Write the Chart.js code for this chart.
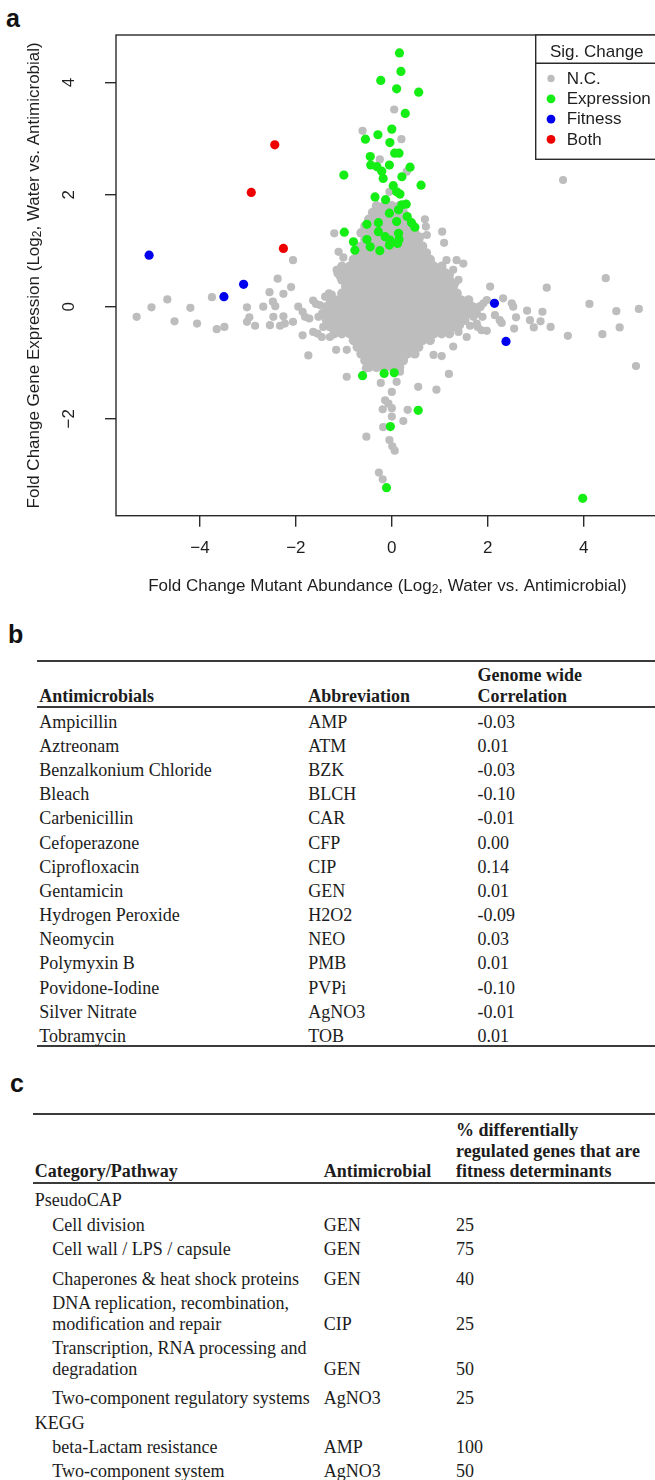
<!DOCTYPE html>
<html>
<head>
<meta charset="utf-8">
<script src="https://cdn.jsdelivr.net/npm/chart.js@4.4.1/dist/chart.umd.min.js"></script>
<style>
  html, body { margin: 0; padding: 0; background: #fff; overflow: hidden; }
  body { width: 655px; height: 1480px; position: relative; color: #1c1c1c;
         font-family: "Liberation Serif", "Times New Roman", serif; }
  .panel { position: absolute; font-family: "Liberation Sans", Arial, sans-serif;
           font-weight: bold; font-size: 25px; line-height: 25px; color: #111; }
  #plotWrap { position: absolute; left: 0; top: 0; width: 655px; height: 600px; overflow: hidden; }
  .tbl { position: absolute; width: 700px; font-size: 18px;
         border-top: 2px solid #3a3a3a; border-bottom: 2px solid #3a3a3a; }
  .hdr { display: flex; align-items: flex-end; border-bottom: 2px solid #3a3a3a; font-weight: bold; }
  .row { display: flex; align-items: flex-end; }
  .cell { white-space: pre; }
  #tableB { left: 37px; top: 660px; }
  #tableB .hdr { height: 44px; line-height: 21.6px; }
  #tableB .hdr .cell { position: relative; top: 2px; }
  #tableB .body { height: 336.7px; box-sizing: border-box; padding-top: 1.6px; }
  #tableB .row { height: 24.2px; line-height: 24.2px; }
  #tableB .c1 { width: 269px; padding-left: 2.3px; }
  #tableB .c2 { width: 169.2px; }
  #tableC { left: 32.6px; top: 1113.3px; }
  #tableC .hdr { height: 66.4px; line-height: 20.5px; }
  #tableC .body { padding-top: 4.85px; }
  #tableC .row { line-height: 20.6px; padding: 1.85px 0; }
  #tableC .row.spaced { padding-top: 7.4px; }
  #tableC .c1 { width: 289px; padding-left: 2.1px; }
  #tableC .c1.item { width: 271.5px; padding-left: 19.6px; }
  #tableC .c2 { width: 132.4px; }
</style>
</head>
<body>
<div class="panel" style="left:6px; top:6px;">a</div>
<div id="plotWrap"><canvas id="volcano" width="672" height="600"></canvas></div>
<div class="panel" style="left:8px; top:622px;">b</div>
<div id="tableB" class="tbl"></div>
<div class="panel" style="left:10px; top:1071px;">c</div>
<div id="tableC" class="tbl"></div>

<script>
// ---- scatter data (log2 fold changes) ----
const xTickValues = [-4, -2, 0, 2, 4];
const yTickValues = [-2, 0, 2, 4];
const xTitle = ["Fold Change Mutant Abundance (Log", "2", ", Water vs. Antimicrobial)"];
const yTitle = ["Fold Change Gene Expression (Log", "2", ", Water vs. Antimicrobial)"];
const legendTitle = "Sig. Change";

// dense core of not-changed genes, row by row (y, then the x values in that row)
const ncBlobY = [1.80, 1.68, 1.56, 1.44, 1.32, 1.20, 1.08, 0.96, 0.84, 0.72, 0.60, 0.48, 0.36,
                 0.24, 0.12, 0.00, -0.12, -0.24, -0.36, -0.48, -0.60, -0.72, -0.84, -0.96, -1.08];
const ncBlobX = [
  [-0.32, -0.16, 0, 0.16],
  [-0.40, -0.24, -0.08, 0.08, 0.24],
  [-0.48, -0.32, -0.16, 0, 0.16, 0.32],
  [-0.56, -0.40, -0.24, -0.08, 0.08, 0.24, 0.40],
  [-0.64, -0.48, -0.32, -0.16, 0, 0.16, 0.32, 0.48],
  [-0.56, -0.40, -0.24, -0.08, 0.08, 0.24, 0.40, 0.56],
  [-0.64, -0.48, -0.32, -0.16, 0, 0.16, 0.32, 0.48, 0.64],
  [-0.72, -0.56, -0.40, -0.24, -0.08, 0.08, 0.24, 0.40, 0.56, 0.72],
  [-0.80, -0.64, -0.48, -0.32, -0.16, 0, 0.16, 0.32, 0.48, 0.64, 0.80],
  [-1.04, -0.88, -0.72, -0.56, -0.40, -0.24, -0.08, 0.08, 0.24, 0.40, 0.56, 0.72, 0.88, 1.04],
  [-1.12, -0.96, -0.80, -0.64, -0.48, -0.32, -0.16, 0, 0.16, 0.32, 0.48, 0.64, 0.80, 0.96, 1.12],
  [-1.04, -0.88, -0.72, -0.56, -0.40, -0.24, -0.08, 0.08, 0.24, 0.40, 0.56, 0.72, 0.88, 1.04, 1.20],
  [-0.96, -0.80, -0.64, -0.48, -0.32, -0.16, 0, 0.16, 0.32, 0.48, 0.64, 0.80, 0.96, 1.12, 1.28],
  [-1.04, -0.88, -0.72, -0.56, -0.40, -0.24, -0.08, 0.08, 0.24, 0.40, 0.56, 0.72, 0.88, 1.04, 1.20, 1.36],
  [-1.28, -1.12, -0.96, -0.80, -0.64, -0.48, -0.32, -0.16, 0, 0.16, 0.32, 0.48, 0.64, 0.80, 0.96, 1.12, 1.28, 1.44, 1.60],
  [-1.36, -1.20, -1.04, -0.88, -0.72, -0.56, -0.40, -0.24, -0.08, 0.08, 0.24, 0.40, 0.56, 0.72, 0.88, 1.04, 1.20, 1.36, 1.52, 1.68, 1.84],
  [-1.44, -1.28, -1.12, -0.96, -0.80, -0.64, -0.48, -0.32, -0.16, 0, 0.16, 0.32, 0.48, 0.64, 0.80, 0.96, 1.12, 1.28, 1.44, 1.60, 1.76],
  [-1.36, -1.20, -1.04, -0.88, -0.72, -0.56, -0.40, -0.24, -0.08, 0.08, 0.24, 0.40, 0.56, 0.72, 0.88, 1.04, 1.20, 1.36, 1.52],
  [-1.28, -1.12, -0.96, -0.80, -0.64, -0.48, -0.32, -0.16, 0, 0.16, 0.32, 0.48, 0.64, 0.80, 0.96, 1.12, 1.28],
  [-1.20, -1.04, -0.88, -0.72, -0.56, -0.40, -0.24, -0.08, 0.08, 0.24, 0.40, 0.56, 0.72, 0.88, 1.04, 1.20],
  [-0.80, -0.64, -0.48, -0.32, -0.16, 0, 0.16, 0.32, 0.48, 0.64, 0.80],
  [-0.72, -0.56, -0.40, -0.24, -0.08, 0.08, 0.24, 0.40, 0.56],
  [-0.64, -0.48, -0.32, -0.16, 0, 0.16, 0.32, 0.48],
  [-0.56, -0.40, -0.24, -0.08, 0.08, 0.24],
  [-0.48, -0.32, -0.16, 0, 0.16]
];

// scattered not-changed genes outside the core
const ncPoints = [
  [-5.32, -0.18], [-5.01, -0.01], [-4.68, 0.13], [-4.53, -0.26], [-4.20, -0.02], [-4.06, -0.30],
  [-3.75, 0.17], [-3.65, -0.40], [-3.49, -0.36], [-3.02, -0.01], [-3.02, -0.27], [-2.97, -0.19],
  [-2.85, -0.34], [-2.68, 0.00], [-2.55, 0.26], [-2.54, -0.33], [-2.48, 0.09], [-2.47, -0.18],
  [-2.43, 0.01], [-2.38, 0.50], [-2.33, -0.34], [-2.26, 0.23], [-2.26, -0.17], [-2.23, -0.30],
  [-2.10, 0.35], [-2.06, 0.83], [-2.06, -0.27], [-1.95, 0.00], [-1.86, -0.09], [-1.86, -0.51],
  [-1.81, -0.18], [-1.74, -0.87], [-1.72, -0.21], [-1.64, 0.11], [-1.64, -0.45], [-1.58, 0.05],
  [-1.55, -0.48], [-1.53, -0.18], [-1.50, 0.03], [-1.46, -0.54], [-1.43, -0.36], [-1.39, 0.18],
  [-1.31, 0.24], [-1.29, -0.54], [-1.25, 0.21], [-1.20, 1.31], [-1.16, -0.77], [-1.15, 0.66],
  [-1.11, 0.98], [-1.08, 0.54], [-1.01, 0.88], [-0.98, 0.69], [-0.94, -0.77], [-0.94, -1.25],
  [-0.61, 3.14], [0.05, 3.52], [0.20, 2.99], [-0.25, 2.63], [0.31, 2.41], [-0.05, 2.05],
  [3.57, 2.26], [0.69, 1.56], [0.71, 1.43], [0.73, 1.28], [0.59, 1.25], [0.59, 1.07],
  [1.05, 1.34], [1.09, 1.14], [1.14, 0.83], [1.35, 0.83], [1.49, 0.77], [1.28, 0.66],
  [1.21, 0.57], [1.39, 0.48], [1.32, 0.42], [1.28, 0.24], [1.42, -0.33], [1.39, -0.45],
  [1.28, -0.71], [1.56, -0.54], [1.63, -0.34], [1.70, -0.18], [1.77, -0.30], [1.79, -0.36],
  [1.87, -0.42], [1.98, -0.43], [1.89, -0.18], [1.91, 0.06], [1.98, 0.12], [2.05, 0.36],
  [2.15, -0.15], [2.25, -0.24], [2.29, -0.29], [2.32, 0.15], [2.50, 0.06], [2.53, 0.00],
  [2.55, -0.39], [2.59, -0.19], [2.82, -0.07], [2.88, -0.24], [2.96, -0.37], [3.10, -0.26],
  [3.14, -0.09], [3.23, 0.34], [3.31, -0.36], [3.67, -0.52], [4.12, 0.05], [4.39, -0.49],
  [4.46, 0.51], [4.68, -0.08], [4.75, -0.37], [5.09, -1.06], [5.15, -0.04], [1.04, -0.88],
  [0.87, -0.86], [1.19, -1.20], [0.93, -1.48], [0.55, -1.43], [-0.54, -1.10], [-0.23, -1.36],
  [0.00, -1.52], [0.10, -1.34], [0.17, -1.16], [-0.14, -1.67], [-0.07, -1.73], [0.00, -1.81],
  [-0.19, -1.83], [0.33, -1.84], [0.24, -2.04], [0.00, -1.96], [-0.18, -2.15], [-0.53, -2.32],
  [-0.05, -2.38], [0.01, -2.49], [0.06, -2.57], [-0.27, -2.96], [-0.19, -3.08]
];

const exprPoints = [
  [0.16, 4.53], [0.19, 4.20], [-0.23, 4.04], [0.10, 3.89], [0.56, 3.83], [0.28, 3.45],
  [0.00, 3.17], [-0.29, 3.07], [-0.55, 2.99], [-0.04, 2.93], [0.06, 2.74], [0.15, 2.74],
  [-0.45, 2.68], [-0.44, 2.53], [-0.31, 2.50], [-0.05, 2.53], [-0.21, 2.42], [0.38, 2.49],
  [0.21, 2.32], [-0.18, 2.29], [-1.00, 2.35], [0.61, 2.17], [0.03, 2.16], [0.10, 2.05],
  [-0.35, 1.96], [0.17, 2.01], [-0.13, 1.91], [0.21, 1.82], [0.30, 1.83], [-0.05, 1.67],
  [0.14, 1.73], [0.32, 1.61], [-0.52, 1.47], [-0.28, 1.50], [0.10, 1.52], [0.48, 1.42],
  [0.41, 1.50], [-0.99, 1.33], [-0.28, 1.34], [-0.14, 1.25], [0.14, 1.31], [-0.52, 1.20],
  [-0.80, 1.16], [-0.77, 1.01], [-0.45, 1.07], [-0.25, 1.00], [-0.05, 1.10], [0.12, 1.13],
  [-0.04, 1.19], [0.15, 1.20], [-0.61, -1.23], [-0.16, -1.19], [0.05, -1.18], [0.55, -1.85],
  [-0.03, -2.14], [-0.11, -3.23], [3.98, -3.42]
];
const fitnessPoints = [[-5.06, 0.92], [-3.09, 0.40], [-3.50, 0.18], [2.14, 0.06], [2.38, -0.62]];
const bothPoints = [[-2.44, 2.89], [-2.93, 2.04], [-2.26, 1.04]];

// ---- table b ----
const drugNames = ["Ampicillin", "Aztreonam", "Benzalkonium Chloride", "Bleach", "Carbenicillin",
  "Cefoperazone", "Ciprofloxacin", "Gentamicin", "Hydrogen Peroxide", "Neomycin", "Polymyxin B",
  "Povidone-Iodine", "Silver Nitrate", "Tobramycin"];
const drugAbbr = ["AMP", "ATM", "BZK", "BLCH", "CAR", "CFP", "CIP", "GEN", "H2O2", "NEO", "PMB",
  "PVPi", "AgNO3", "TOB"];
const drugCorr = ["-0.03", "0.01", "-0.03", "-0.10", "-0.01", "0.00", "0.14", "0.01", "-0.09",
  "0.03", "0.01", "-0.10", "-0.01", "0.01"];

// ---- table c ----
const pathLabels = ["PseudoCAP", "Cell division", "Cell wall / LPS / capsule",
  "Chaperones & heat shock proteins", "DNA replication, recombination,\nmodification and repair",
  "Transcription, RNA processing and\ndegradation", "Two-component regulatory systems", "KEGG",
  "beta-Lactam resistance", "Two-component system"];
const pathAgents = ["", "GEN", "GEN", "GEN", "CIP", "GEN", "AgNO3", "", "AMP", "AgNO3"];
const pathPct = ["", "25", "75", "40", "25", "50", "25", "", "100", "50"];

// build tables
function cell(cls, text) {
  const d = document.createElement("div");
  d.className = "cell " + cls;
  d.textContent = text;
  return d;
}

const tableB = document.getElementById("tableB");
const hdrB = document.createElement("div");
hdrB.className = "hdr";
hdrB.append(cell("c1", "Antimicrobials"), cell("c2", "Abbreviation"), cell("c3", "Genome wide\nCorrelation"));
const bodyB = document.createElement("div");
bodyB.className = "body";
drugNames.forEach((name, i) => {
  const r = document.createElement("div");
  r.className = "row";
  r.append(cell("c1", name), cell("c2", drugAbbr[i]), cell("c3", drugCorr[i]));
  bodyB.appendChild(r);
});
tableB.append(hdrB, bodyB);

const spacedRows = [3, 6];
const tableC = document.getElementById("tableC");
const hdrC = document.createElement("div");
hdrC.className = "hdr";
hdrC.append(cell("c1", "Category/Pathway"), cell("c2", "Antimicrobial"),
  cell("c3", "% differentially\nregulated genes that are\nfitness determinants"));
const bodyC = document.createElement("div");
bodyC.className = "body";
pathLabels.forEach((label, i) => {
  const r = document.createElement("div");
  r.className = "row" + (spacedRows.includes(i) ? " spaced" : "");
  r.append(cell(pathAgents[i] ? "c1 item" : "c1", label), cell("c2", pathAgents[i]), cell("c3", pathPct[i]));
  bodyC.appendChild(r);
});
tableC.append(hdrC, bodyC);

// ---- chart ----
const SANS = '"Liberation Sans", Arial, Helvetica, sans-serif';
const INK = "#1e1e1e";

function toXY(pairs) {
  return pairs.map(p => ({ x: p[0], y: p[1] }));
}
const ncData = [];
ncBlobY.forEach((yv, i) => ncBlobX[i].forEach(xv => ncData.push({ x: xv, y: yv })));
const blobCount = ncData.length;
toXY(ncPoints).forEach(p => ncData.push(p));

function fmt(v) {
  return v < 0 ? "\u2212" + Math.abs(v) : String(v);
}

function drawLogTitle(ctx, parts, cx, cy, angle) {
  const main = "17px " + SANS;
  const small = "12px " + SANS;
  ctx.save();
  ctx.translate(cx, cy);
  ctx.rotate(angle);
  ctx.font = main;
  const w1 = ctx.measureText(parts[0]).width;
  const w3 = ctx.measureText(parts[2]).width;
  ctx.font = small;
  const w2 = ctx.measureText(parts[1]).width;
  const x0 = -(w1 + w2 + w3) / 2;
  ctx.textAlign = "left";
  ctx.textBaseline = "middle";
  ctx.font = main;
  ctx.fillText(parts[0], x0, 0);
  ctx.font = small;
  ctx.fillText(parts[1], x0 + w1, 4);
  ctx.font = main;
  ctx.fillText(parts[2], x0 + w1 + w2, 0);
  ctx.restore();
}

// frame, tick labels, axis titles and the boxed legend, R style
const rFrame = {
  id: "rFrame",
  afterDraw(chart) {
    const { ctx, chartArea: a, scales: { x, y } } = chart;
    ctx.save();
    ctx.strokeStyle = "#2a2a2a";
    ctx.lineWidth = 1.4;
    ctx.strokeRect(a.left, a.top, a.right - a.left, a.bottom - a.top);

    ctx.fillStyle = INK;
    ctx.font = "17px " + SANS;
    ctx.textAlign = "center";
    ctx.textBaseline = "middle";
    xTickValues.forEach(v => ctx.fillText(fmt(v), x.getPixelForValue(v), a.bottom + 32.5));
    yTickValues.forEach(v => {
      ctx.save();
      ctx.translate(a.left - 47, y.getPixelForValue(v));
      ctx.rotate(-Math.PI / 2);
      ctx.fillText(fmt(v), 0, 0);
      ctx.restore();
    });

    drawLogTitle(ctx, xTitle, 387.4, a.bottom + 70.3, 0);
    drawLogTitle(ctx, yTitle, a.left - 82, (a.top + a.bottom) / 2, -Math.PI / 2);

    // legend box
    const lx = 535.7, ly = a.top, lb = a.top + 124.3;
    ctx.fillStyle = "#fff";
    ctx.fillRect(lx, ly, 200, lb - ly);
    ctx.strokeRect(lx, ly, 200, lb - ly);
    ctx.beginPath();
    ctx.moveTo(lx, ly + 28.3);
    ctx.lineTo(lx + 200, ly + 28.3);
    ctx.stroke();
    ctx.fillStyle = INK;
    ctx.textAlign = "left";
    ctx.fillText(legendTitle, lx + 14.3, ly + 16.9);
    chart.data.datasets.forEach((ds, i) => {
      const cy = ly + 43.5 + i * 20.3;
      ctx.fillStyle = ds.backgroundColor;
      ctx.beginPath();
      ctx.arc(lx + 15.3, cy, i === 0 ? 3.7 : 4.4, 0, Math.PI * 2);
      ctx.fill();
      ctx.fillStyle = INK;
      ctx.fillText(ds.label, lx + 31, cy + 0.5);
    });
    ctx.restore();
  }
};

new Chart(document.getElementById("volcano"), {
  type: "scatter",
  data: {
    datasets: [
      { label: "N.C.", data: ncData, backgroundColor: "#bdbdbd", pointBorderWidth: 0, order: 4,
        pointRadius: c => (c.dataIndex < blobCount ? 4.8 : 4.1) },
      { label: "Expression", data: toXY(exprPoints), backgroundColor: "#14ee14", pointRadius: 4.6, pointBorderWidth: 0, order: 3 },
      { label: "Fitness", data: toXY(fitnessPoints), backgroundColor: "#0000ee", pointRadius: 4.6, pointBorderWidth: 0, order: 2 },
      { label: "Both", data: toXY(bothPoints), backgroundColor: "#ee0000", pointRadius: 4.6, pointBorderWidth: 0, order: 1 }
    ]
  },
  options: {
    responsive: false,
    animation: false,
    devicePixelRatio: 1,
    layout: { padding: { top: 35, right: 13, left: 0, bottom: 0 } },
    plugins: { legend: { display: false }, tooltip: { enabled: false } },
    scales: {
      x: {
        type: "linear",
        min: -5.75,
        max: 5.57,
        afterBuildTicks: s => { s.ticks = xTickValues.map(v => ({ value: v })); },
        afterFit: s => { s.height = 84.3; },
        ticks: { display: false },
        border: { display: false },
        grid: { drawOnChartArea: false, drawTicks: true, tickLength: 11, color: "#2a2a2a", lineWidth: 1.4 }
      },
      y: {
        type: "linear",
        min: -3.73,
        max: 4.85,
        afterBuildTicks: s => { s.ticks = yTickValues.map(v => ({ value: v })); },
        afterFit: s => { s.width = 116; },
        ticks: { display: false },
        border: { display: false },
        grid: { drawOnChartArea: false, drawTicks: true, tickLength: 11, color: "#2a2a2a", lineWidth: 1.4 }
      }
    }
  },
  plugins: [rFrame]
});
</script>
</body>
</html>
